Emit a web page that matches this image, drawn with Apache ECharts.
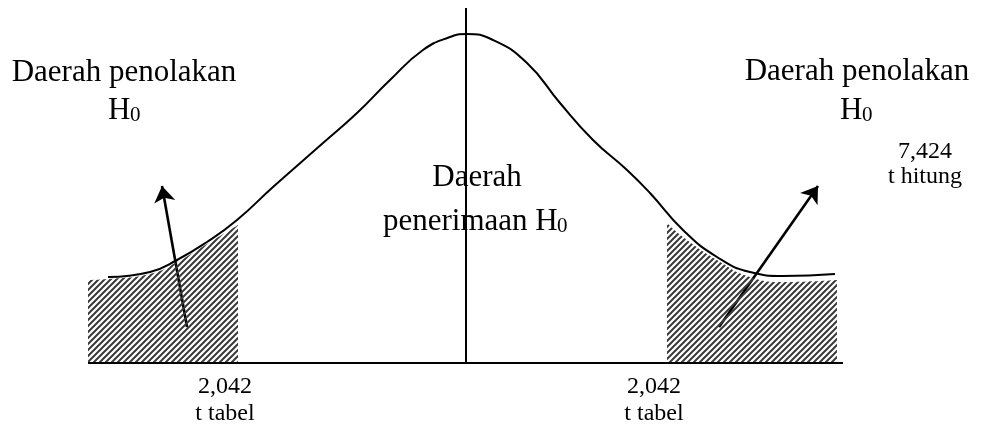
<!DOCTYPE html>
<html>
<head>
<meta charset="utf-8">
<script src="https://cdn.jsdelivr.net/npm/echarts@6.0.0/dist/echarts.min.js"></script>
<style>
html,body{margin:0;padding:0;background:#fff;}
#chart{width:986px;height:427px;}
</style>
</head>
<body>
<div id="chart"></div>
<script>
// kurva distribusi t (satuan sumbu = piksel gambar asli, y dihitung dari garis dasar)
var curveX = [108, 150, 177, 207, 237, 273, 323, 357, 390, 423, 450, 466, 493, 527, 560, 593, 627, 650, 683, 717, 750, 783, 835];
var curveY = [86, 91, 103, 121, 143, 176, 220, 250, 283, 313, 326, 329, 323, 300, 260, 223, 193, 170, 133, 106, 91, 87, 89];

// daerah arsir (penolakan H0)
var leftTailX = [88, 108, 150, 177, 207, 238];
var leftTailY = [83, 84, 89, 101, 119, 138];
var rightTailX = [667, 683, 717, 750, 783, 837];
var rightTailY = [140, 126, 103, 86, 81, 83];

// garis dasar dan sumbu tengah
var baseX = [88, 843];
var axisX = 466;
var axisTop = 355;

// panah
var arrowFrom = [[187, 36], [719, 36]];
var arrowTo = [[162, 177], [818, 177]];

var tTabel = '2,042';
var tHitung = '7,424';

function zip(xs, ys){
	var out = [];
	for(var i = 0; i < xs.length; i++){
		out.push([xs[i], ys[i]]);
	}
	return out;
}

// pola garis miring untuk arsiran
function hatchPattern(){
	var c = document.createElement('canvas');
	var s = 6;
	c.width = s;
	c.height = s;
	var ctx = c.getContext('2d');
	ctx.strokeStyle = '#3a3a3a';
	ctx.lineWidth = 2;
	ctx.beginPath();
	ctx.moveTo(-s, s); ctx.lineTo(s, -s);
	ctx.moveTo(-1, s + 1); ctx.lineTo(s + 1, -1);
	ctx.moveTo(0, 2 * s); ctx.lineTo(2 * s, 0);
	ctx.stroke();
	return c;
}

var FONT = '"Liberation Serif", "Times New Roman", serif';

function txt(str, x, baseline, size, align){
	return {
		type: 'text',
		x: x,
		y: baseline - 0.34 * size,
		silent: true,
		style: {
			text: str,
			fill: '#000',
			font: size + 'px ' + FONT,
			align: align || 'center',
			verticalAlign: 'middle'
		}
	};
}

var chart = echarts.init(document.getElementById('chart'));
var pattern = { image: hatchPattern(), repeat: 'repeat' };

var option = {
	animation: false,
	grid: { left: 0, right: 0, top: 0, bottom: 64 },
	xAxis: { type: 'value', min: 0, max: 986, show: false },
	yAxis: { type: 'value', min: 0, max: 363, show: false },
	series: [
		{
			type: 'line', data: zip(leftTailX, leftTailY), smooth: true, symbol: 'none', silent: true, clip: false,
			lineStyle: { width: 0, opacity: 0 },
			areaStyle: { color: pattern, opacity: 1 }
		},
		{
			type: 'line', data: zip(rightTailX, rightTailY), smooth: true, symbol: 'none', silent: true, clip: false,
			lineStyle: { width: 0, opacity: 0 },
			areaStyle: { color: pattern, opacity: 1 }
		},
		{
			type: 'line', data: zip(curveX, curveY), smooth: 0.5, symbol: 'none', silent: true, clip: false,
			lineStyle: { color: '#000', width: 2 }
		},
		{
			type: 'line', data: [[baseX[0], 0], [baseX[1], 0]], symbol: 'none', silent: true, clip: false,
			lineStyle: { color: '#000', width: 2 }
		},
		{
			type: 'line', data: [[axisX, 0], [axisX, axisTop]], symbol: 'none', silent: true, clip: false,
			lineStyle: { color: '#000', width: 2 }
		},
		{
			type: 'lines', coordinateSystem: 'cartesian2d', silent: true,
			symbol: ['none', 'arrow'], symbolSize: 16,
			lineStyle: { color: '#000', width: 2.6, opacity: 1 },
			data: [
				{ coords: [arrowFrom[0], arrowTo[0]] },
				{ coords: [arrowFrom[1], arrowTo[1]] }
			]
		}
	],
	graphic: [
		txt('Daerah penolakan', 124, 83, 31),
		txt('H', 108, 121, 31, 'left'),
		txt('0', 130, 123, 21, 'left'),
		txt('Daerah penolakan', 857, 82, 31),
		txt('H', 840, 121, 31, 'left'),
		txt('0', 862, 123, 21, 'left'),
		txt(tHitung, 925, 160, 24),
		txt('t hitung', 925, 185, 24),
		txt('Daerah', 477, 188, 31),
		txt('penerimaan H', 383, 232, 31, 'left'),
		txt('0', 557, 234, 21, 'left'),
		txt(tTabel, 225, 395, 24),
		txt('t tabel', 225, 422, 24),
		txt(tTabel, 654, 395, 24),
		txt('t tabel', 654, 422, 24)
	]
};

chart.setOption(option);
</script>
</body>
</html>
